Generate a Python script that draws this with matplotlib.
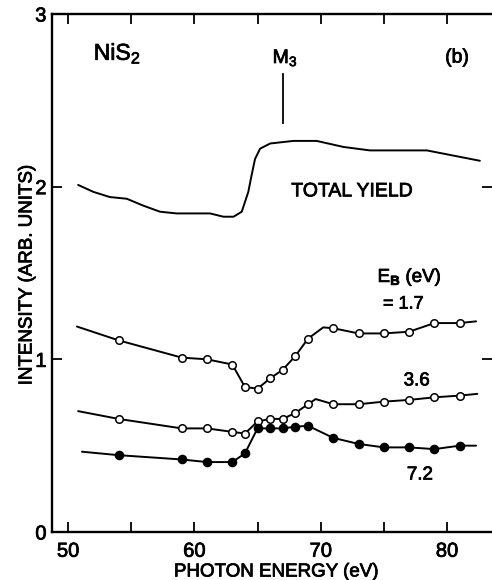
import matplotlib
matplotlib.use("Agg")
import matplotlib.pyplot as plt
import matplotlib.patheffects as pe

plt.rcParams['font.family'] = ['Liberation Sans', 'DejaVu Sans']
plt.rcParams['mathtext.fontset'] = 'custom'
plt.rcParams['mathtext.rm'] = 'Liberation Sans'
plt.rcParams['mathtext.it'] = 'Liberation Sans'
plt.rcParams['mathtext.bf'] = 'Liberation Sans:bold'

# ---------------- data ----------------
# Total yield curve (line only)
ty_energy = [50.8, 52.0, 53.3, 54.65, 55.96, 57.28, 58.6, 59.92, 61.24, 62.3, 63.1,
             63.75, 64.27, 64.54, 64.8, 65.2, 66.0, 67.83, 69.68, 71.8, 73.9,
             75.75, 78.4, 80.5, 82.6]
ty_intensity = [2.01, 1.97, 1.94, 1.93, 1.89, 1.855, 1.845, 1.845, 1.845, 1.826, 1.826,
                1.855, 1.97, 2.07, 2.16, 2.22, 2.25, 2.265, 2.265, 2.23, 2.21,
                2.21, 2.21, 2.18, 2.15]

# photon energies of the measured points (same for all binding energies)
pt_energy = [54, 59, 61, 63, 64, 65, 66, 67, 68, 69, 71, 73, 75, 77, 79, 81]

# E_B = 1.7 eV
eb17_points = [1.11, 1.01, 1.00, 0.97, 0.84, 0.83, 0.89, 0.94, 1.02, 1.12,
               1.18, 1.15, 1.15, 1.16, 1.21, 1.21]
eb17_line_e = [50.7, 54, 59, 61, 63, 64, 65, 66, 67, 68, 69, 70.2, 71, 73, 75, 77, 79, 81, 82.3]
eb17_line_i = [1.19, 1.11, 1.01, 1.00, 0.97, 0.84, 0.83, 0.89, 0.94, 1.02, 1.12,
               1.185, 1.18, 1.15, 1.15, 1.16, 1.21, 1.21, 1.22]

# E_B = 3.6 eV
eb36_points = [0.655, 0.60, 0.60, 0.58, 0.57, 0.64, 0.655, 0.655, 0.69, 0.74,
               0.74, 0.74, 0.755, 0.765, 0.78, 0.79]
eb36_line_e = [50.8, 54, 59, 61, 63, 64, 65, 66, 67, 68, 69, 69.6, 71, 73, 75, 77, 79, 81, 82.4]
eb36_line_i = [0.70, 0.655, 0.60, 0.60, 0.58, 0.57, 0.64, 0.655, 0.655, 0.69, 0.74,
               0.77, 0.74, 0.74, 0.755, 0.765, 0.78, 0.79, 0.80]

# E_B = 7.2 eV
eb72_points = [0.445, 0.42, 0.405, 0.405, 0.455, 0.60, 0.60, 0.60, 0.61, 0.615,
               0.545, 0.51, 0.49, 0.49, 0.48, 0.50]
eb72_line_e = [51.1, 54, 59, 61, 63, 64, 65, 66, 67, 68, 69, 71, 73, 75, 77, 79, 81, 82.3]
eb72_line_i = [0.465, 0.445, 0.42, 0.405, 0.405, 0.455, 0.60, 0.60, 0.60, 0.61, 0.615,
               0.545, 0.51, 0.49, 0.49, 0.48, 0.50, 0.50]

x_major = [50, 55, 60, 65, 70, 75, 80]
x_labels = ['50', '', '60', '', '70', '', '80']
y_major = [0, 1, 2, 3]
y_labels = ['0', '1', '2', '3']

# ---------------- figure ----------------
W, H = 492, 580
fig = plt.figure(figsize=(W / 100, H / 100), dpi=100)
left_px, bottom_px, top_px = 52, 532, 14
ax = fig.add_axes([left_px / W, (H - bottom_px) / H, 1 - left_px / W, (bottom_px - top_px) / H])
ax.set_xlim(48.73, 83.56)
ax.set_ylim(0, 3)

ink = [pe.withStroke(linewidth=0.55, foreground='black')]

lw = 1.4
ax.plot(ty_energy, ty_intensity, color='black', lw=lw, solid_joinstyle='round',
        solid_capstyle='round')

for le, li, pv, filled in [(eb17_line_e, eb17_line_i, eb17_points, False),
                           (eb36_line_e, eb36_line_i, eb36_points, False),
                           (eb72_line_e, eb72_line_i, eb72_points, True)]:
    ax.plot(le, li, color='black', lw=lw, solid_joinstyle='round', solid_capstyle='round',
            zorder=2)
    ax.plot(pt_energy, pv, linestyle='none', marker='o', ms=5.4 if not filled else 5.8,
            mfc='black' if filled else 'white', mec='black', mew=1.1, zorder=3)

# M3 edge marker
ax.plot([67.0, 67.0], [2.37, 2.65], color='black', lw=1.3)
texts = []
texts.append(ax.text(67.2, 2.745, 'M$_3$', ha='center', va='center', fontsize=14))
texts.append(ax.text(53.9, 2.775, 'NiS$_2$', ha='center', va='center', fontsize=16.5))
texts.append(ax.text(80.8, 2.745, '(b)', ha='center', va='center', fontsize=14))
texts.append(ax.text(72.48, 1.97, 'TOTAL YIELD', ha='center', va='center', fontsize=14))
texts.append(ax.text(74.5, 1.474, 'E$_\\mathbf{B}$ (eV)', ha='left', va='center', fontsize=13.5))
texts.append(ax.text(74.93, 1.32, '= 1.7', ha='left', va='center', fontsize=13))
texts.append(ax.text(77.6, 0.875, '3.6', ha='center', va='center', fontsize=13.5))
texts.append(ax.text(77.86, 0.33, '7.2', ha='center', va='center', fontsize=13.5))

# axes styling
for s in ['left', 'bottom', 'top']:
    ax.spines[s].set_linewidth(1.7)
ax.spines['right'].set_visible(False)

ax.set_xticks(x_major)
ax.set_xticklabels(x_labels)
ax.set_yticks(y_major)
ax.set_yticklabels(y_labels)
ax.tick_params(axis='both', which='major', direction='in', length=7.5, width=1.3,
               labelsize=14.5, top=True, right=True)
ax.tick_params(axis='x', pad=7)
ax.tick_params(axis='y', pad=4)

texts.append(fig.text(27 / W, 1 - 275 / H, 'INTENSITY (ARB. UNITS)', rotation=90,
                      ha='center', va='center', fontsize=13.5))
texts.append(fig.text(276 / W, 3.5 / H, 'PHOTON ENERGY (eV)', ha='center', va='baseline',
                      fontsize=13.5))

for t in texts + ax.get_xticklabels() + ax.get_yticklabels():
    t.set_path_effects(ink)

fig.savefig('out.png', dpi=100)
